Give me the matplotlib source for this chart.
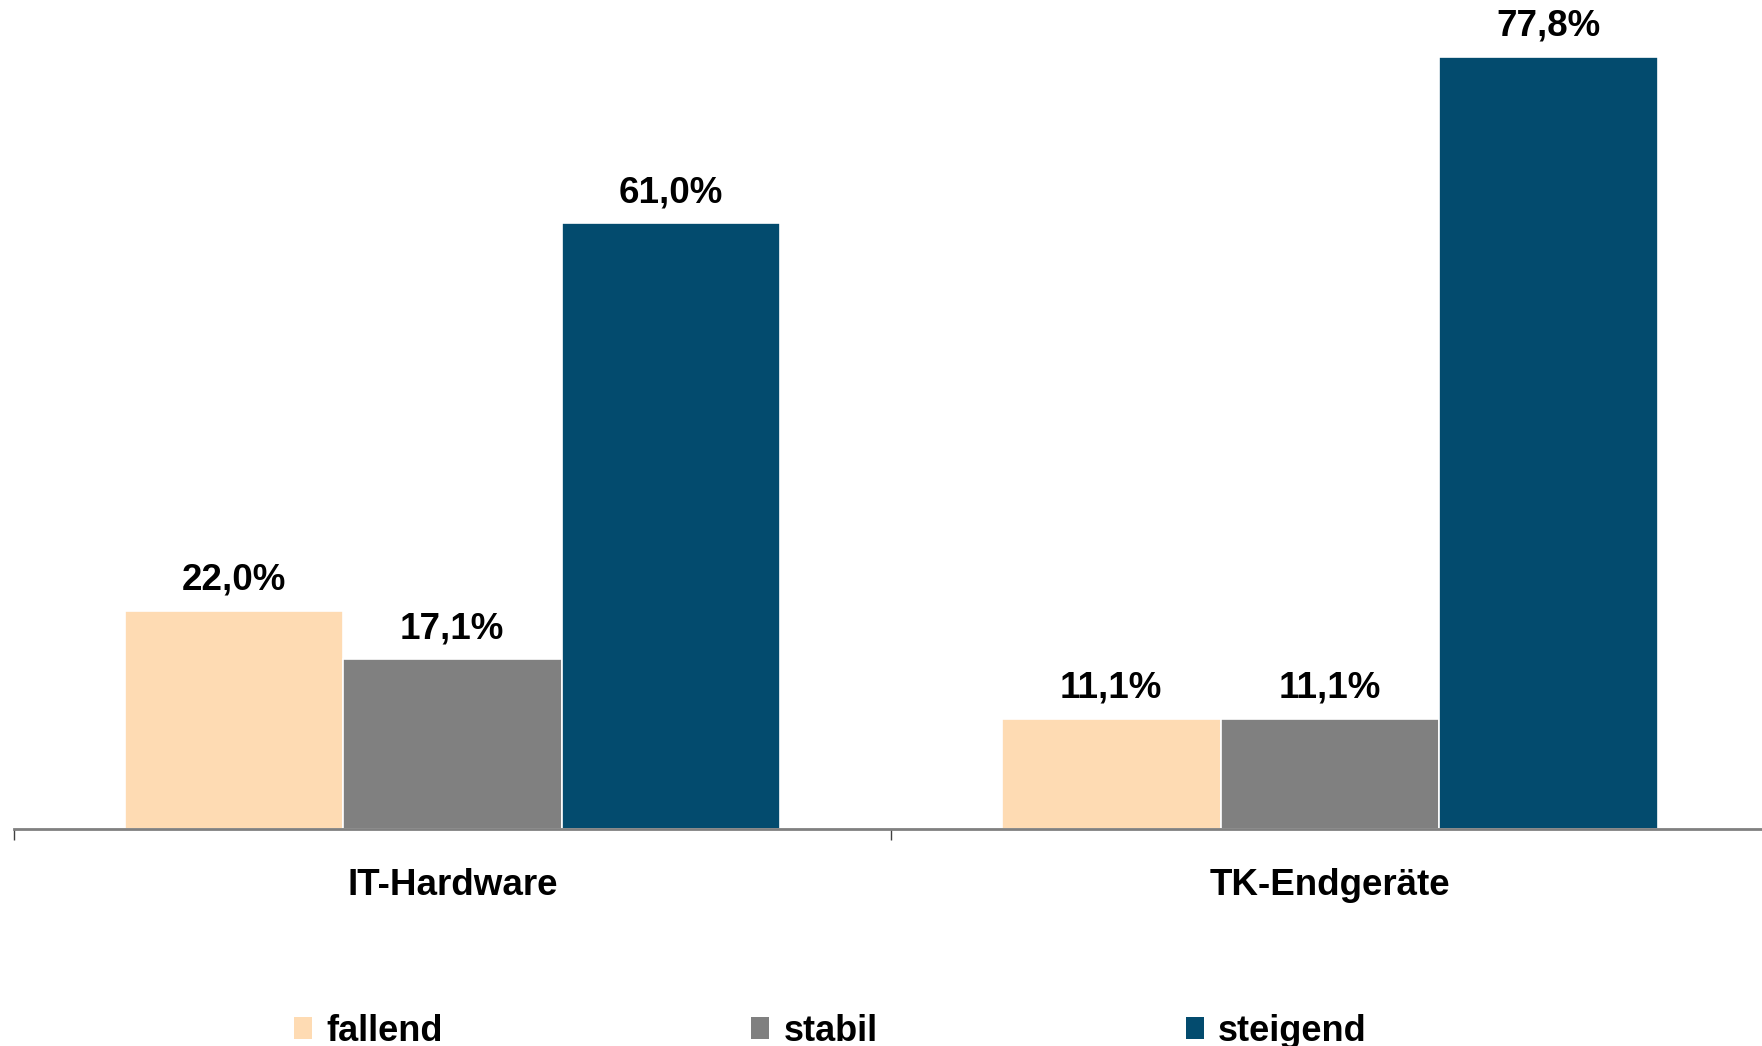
import numpy as np
import matplotlib
matplotlib.use("Agg")
import matplotlib.pyplot as plt
from matplotlib.patches import Patch

plt.rcParams['font.family'] = ['Liberation Sans', 'DejaVu Sans']
plt.rcParams['font.weight'] = 'bold'

categories = ["IT-Hardware", "TK-Endgeräte"]
series = ["fallend", "stabil", "steigend"]
values = {
    "fallend": [22.0, 11.1],
    "stabil": [17.1, 11.1],
    "steigend": [61.0, 77.8],
}
colors = {"fallend": "#FEDBB3", "stabil": "#808080", "steigend": "#034B6E"}

fig = plt.figure(figsize=(17.62, 10.46), dpi=100)
ax = fig.add_axes([0.0077, 0.2075, 0.996, 0.7925])

x = np.arange(len(categories))
w = 0.249
for i, s in enumerate(series):
    pos = x + (i - 1) * w
    bars = ax.bar(pos, values[s], width=w, color=colors[s], edgecolor="white",
                  linewidth=1.2, label=s)
    for xb, v in zip(pos, values[s]):
        ax.annotate(f"{v:.1f}%".replace(".", ","), (xb, v), xytext=(0, 15),
                    textcoords="offset points", ha="center", va="baseline",
                    fontsize=26.5, fontweight="bold")

ax.set_xlim(-0.5, 1.5)
ax.set_ylim(0, 83.5)
ax.set_yticks([])
for side in ["top", "right", "left"]:
    ax.spines[side].set_visible(False)
ax.spines["bottom"].set_color("#808080")
ax.spines["bottom"].set_linewidth(2)

ax.set_xticks([-0.5, 0.5, 1.5])
ax.set_xticklabels([])
ax.tick_params(axis="x", which="major", length=8, width=1, color="#404040", direction="out")
ax.set_xticks(x, minor=True)
ax.set_xticklabels(categories, minor=True, fontsize=26.5, fontweight="bold")
ax.tick_params(axis="x", which="minor", length=0, pad=28)

handles = [Patch(facecolor=colors[s], edgecolor="none", label=s) for s in series]
fig.legend(handles=handles, loc="center left", bbox_to_anchor=(0.1669, 0.014),
           ncol=3, frameon=False, borderpad=0, borderaxespad=0,
           handlelength=0.5, handleheight=0.55, handletextpad=0.4,
           columnspacing=8.53, prop={"weight": "bold", "size": 26})

fig.savefig("out.png", dpi=100)
